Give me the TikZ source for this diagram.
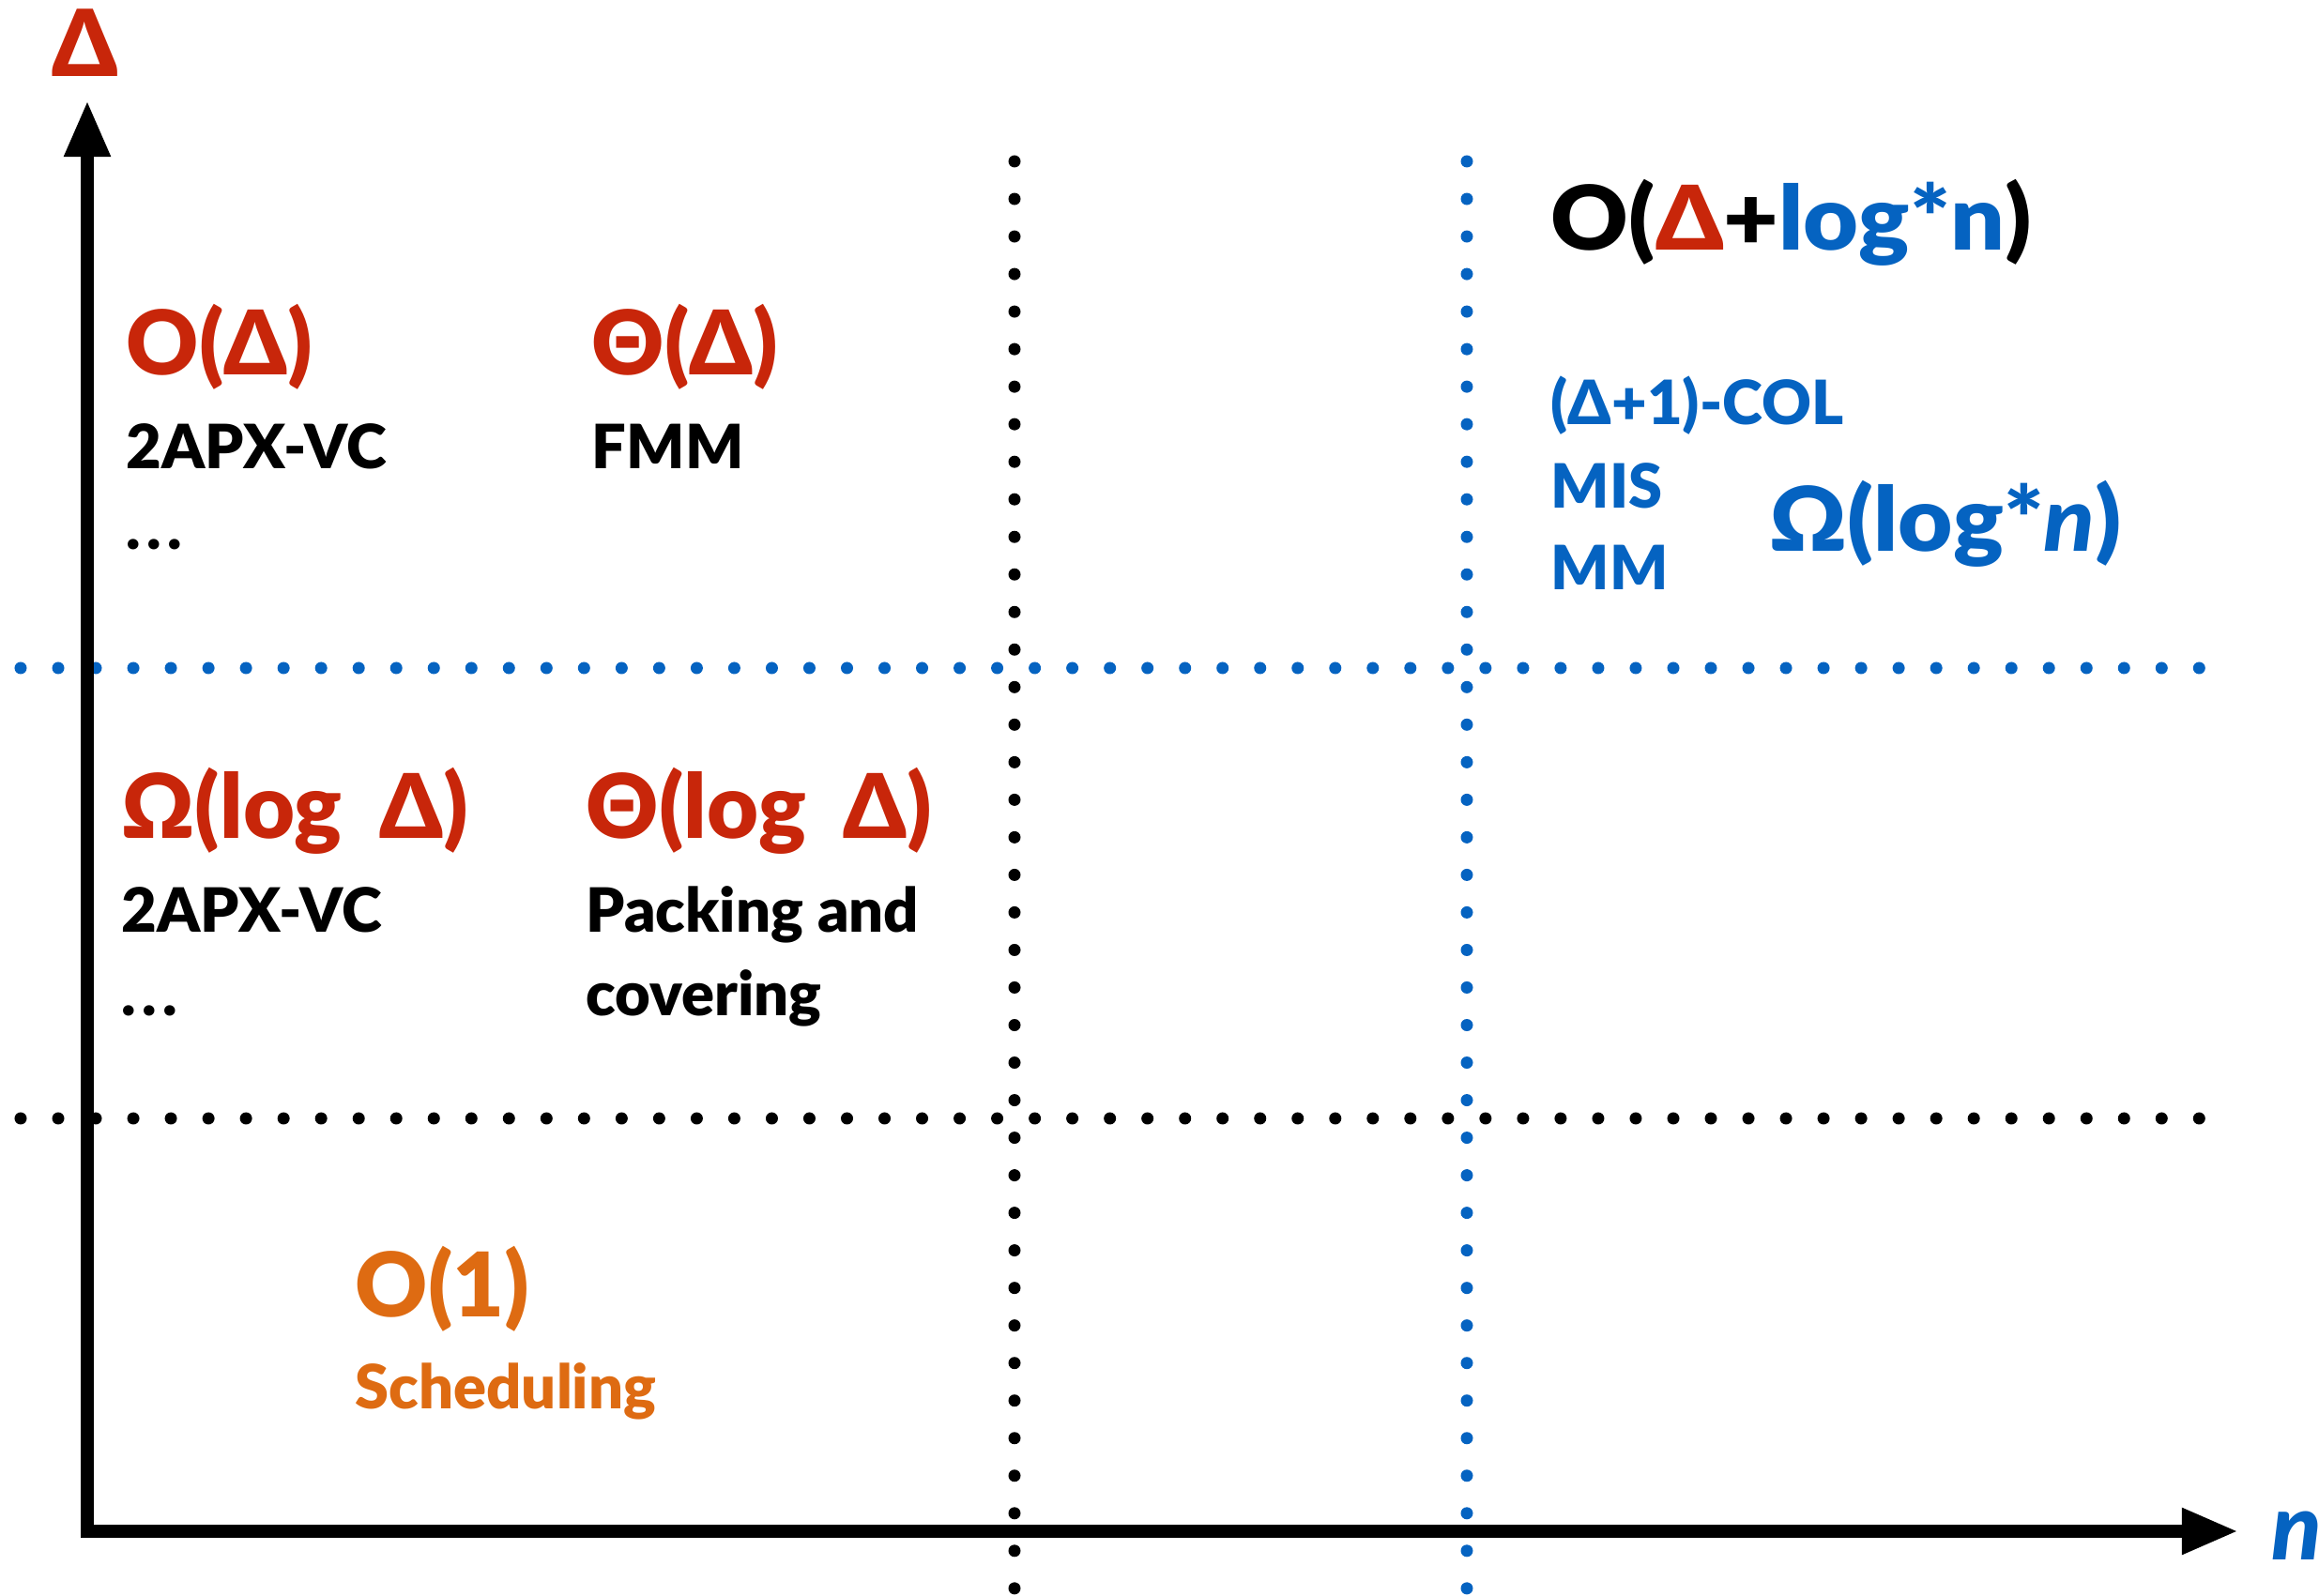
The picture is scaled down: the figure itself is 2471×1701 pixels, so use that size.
\documentclass[tikz,border=0pt]{standalone}
\usepackage{fontspec}
\setmainfont{Lato}[BoldFont={Lato Black},BoldItalicFont={Lato Black Italic}]
\usetikzlibrary{arrows.meta}
\definecolor{cred}{HTML}{C8260A}
\definecolor{cblue}{HTML}{0563C1}
\definecolor{corange}{HTML}{DE6B12}
\newcommand{\wsp}{\hspace{0.42em}}
\newcommand{\mydots}{.\kern1.8pt.\kern1.8pt.}
\begin{document}
\begin{tikzpicture}[x=0.01cm,y=-0.01cm,
  lbl/.style={anchor=base west,inner sep=0pt},
  big/.style={lbl,font=\fontsize{27}{32}\selectfont\bfseries},
  mid/.style={lbl,font=\fontsize{27}{30}\selectfont\bfseries},
  small/.style={lbl,font=\fontsize{18.5}{22}\selectfont\bfseries},
  axlabel/.style={inner sep=0pt,font=\fontsize{28}{32}\selectfont\bfseries},
  dotline/.style={line width=0.13cm,line cap=round,dash pattern=on 0pt off 0.4cm},
  axis/.style={line width=0.14cm,-{Triangle[length=0.6cm,width=0.46cm]}}]
\useasboundingbox (0,0) rectangle (2471,1701);
% grid of dotted lines
\coordinate (vb1) at (1081,172);  \coordinate (vb2) at (1081,1694);
\coordinate (vu1) at (1563,172);  \coordinate (vu2) at (1563,1694);
\coordinate (hu1) at (22,712);    \coordinate (hu2) at (2344,712);
\coordinate (hb1) at (22,1192);   \coordinate (hb2) at (2344,1192);
\draw[dotline,black] (vb1) -- (vb2);
\draw[dotline,cblue] (vu1) -- (vu2);
\draw[dotline,cblue] (hu1) -- (hu2);
\draw[dotline,black] (hb1) -- (hb2);
% axes
\coordinate (ystart) at (93,1639);
\coordinate (ytip) at (93,107);
\coordinate (xstart) at (86,1632);
\coordinate (xtip) at (2385,1632);
\draw[axis] (ystart) -- (ytip);
\draw[axis] (xstart) -- (xtip);
\node[axlabel,text=cred,anchor=base] (dlab) at (91,82) {Δ};
\node[axlabel,text=cblue,anchor=base west] (nlab) at (2420,1663) {\itshape n};
% upper left
\node[big,text=cred] (oD) at (134,400) {O(Δ)};
\node[small] (apx1) at (134,500) {2APX-VC};
\node[small] (dots1) at (134,586) {\mydots};
\node[big,text=cred] (thD) at (630,400) {Θ(Δ)};
\node[small] (fmm) at (630,500) {FMM};
% upper right
\node[big] (oDl) at (1652,267) {\scalebox{1.07}[1]{O({\color{cred}Δ}+{\color{cblue}log*n})}};
\node[small,text=cblue] (col) at (1652,453) {(Δ+1)-COL};
\node[small,text=cblue] (mis) at (1652,542) {MIS};
\node[small,text=cblue] (mm) at (1652,629) {MM};
\node[mid,text=cblue] (oml) at (1885,588) {\scalebox{1.06}[1]{Ω(log*{\itshape n})}};
% middle left
\node[big,text=cred] (omlD) at (129,894) {Ω(log\wsp Δ)};
\node[small] (apx2) at (129,994) {2APX-VC};
\node[small] (dots2) at (129,1083) {\mydots};
\node[big,text=cred] (thlD) at (624,894) {Θ(log\wsp Δ)};
\node[small] (pack) at (624,994) {Packing and};
\node[small] (cov) at (624,1083) {covering};
% bottom
\node[big,text=corange] (o1) at (378,1404) {O(1)};
\node[small,text=corange] (sched) at (378,1502) {Scheduling};
\end{tikzpicture}
\end{document}
